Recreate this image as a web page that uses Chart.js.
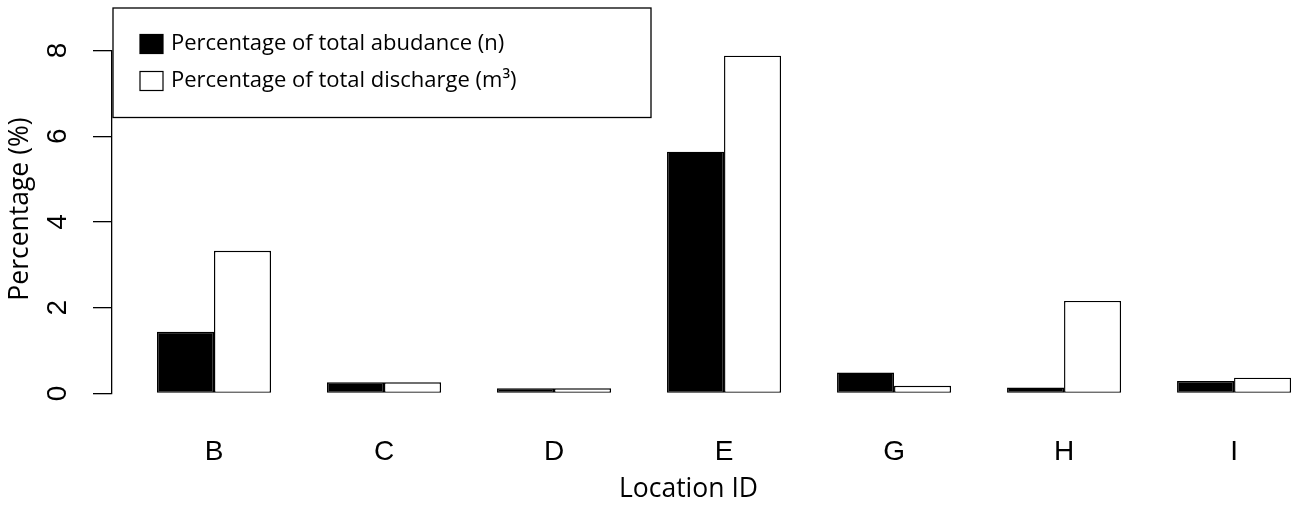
<!DOCTYPE html>
<html>
<head>
<meta charset="utf-8">
<title>Percentage by location</title>
<script src="https://cdn.jsdelivr.net/npm/chart.js@4.4.1/dist/chart.umd.min.js"></script>
<style>
  html, body { margin: 0; padding: 0; background: #fff; overflow: hidden; }
  #wrap { position: relative; width: 1296px; height: 505px; }
</style>
</head>
<body>
<div id="wrap"><canvas id="chart"></canvas></div>
<script>
// ── Data ───────────────────────────────────────────────
const locations = ['B', 'C', 'D', 'E', 'G', 'H', 'I'];
const abundance = [1.44, 0.26, 0.12, 5.64, 0.49, 0.14, 0.29];
const discharge = [3.33, 0.26, 0.12, 7.88, 0.18, 2.16, 0.37];
const yTicks = [0, 2, 4, 6, 8];
const seriesLabels = ['Percentage of total abudance (n)', 'Percentage of total discharge (m³)'];
const yTitle = 'Percentage (%)';

const axisFont = "'Liberation Sans', Arial, sans-serif";
const textFont = "'Open Sans', 'Noto Sans', sans-serif";

// ── Boxed legend + y title (sits a bit above the axis middle) ──
const boxLegend = {
    id: 'boxLegend',
    afterDraw(chart) {
        const ctx = chart.ctx;
        ctx.save();
        ctx.strokeStyle = '#000';
        ctx.lineWidth = 1.3;
        ctx.strokeRect(113, 8, 538, 109.5);
        chart.data.datasets.forEach((ds, i) => {
            const y = 44 + i * 37;
            ctx.fillStyle = ds.backgroundColor;
            ctx.fillRect(140, y - 9.5, 23, 19);
            ctx.lineWidth = 1.2;
            ctx.strokeRect(140, y - 9.5, 23, 19);
            ctx.fillStyle = '#000';
            ctx.font = '22px ' + textFont;
            ctx.textBaseline = 'middle';
            ctx.fillText(ds.label, 171, y);
        });

        ctx.translate(20, 209);
        ctx.rotate(-Math.PI / 2);
        ctx.font = '26.5px ' + textFont;
        ctx.textAlign = 'center';
        ctx.textBaseline = 'middle';
        ctx.fillStyle = '#000';
        ctx.fillText(yTitle, 0, 0);
        ctx.restore();
    }
};

const barStyle = { borderColor: '#000', borderWidth: 1.4, borderSkipped: false,
    categoryPercentage: 0.6706, barPercentage: 1, clip: false };

new Chart(document.getElementById('chart'), {
    type: 'bar',
    data: {
        datasets: [
            { label: seriesLabels[0], backgroundColor: '#000', ...barStyle,
              data: locations.map((c, i) => ({ x: i, y: abundance[i] })) },
            { label: seriesLabels[1], backgroundColor: '#fff', ...barStyle,
              data: locations.map((c, i) => ({ x: i, y: discharge[i] })) }
        ]
    },
    options: {
        responsive: true,
        maintainAspectRatio: false,
        animation: false,
        layout: { padding: { top: 50.5, right: 31, bottom: 0, left: 0 } },
        plugins: { legend: { display: false }, tooltip: { enabled: false } },
        scales: {
            x: {
                type: 'linear',
                min: -0.6,
                max: 6.182,
                offset: false,
                afterBuildTicks: s => { s.ticks = locations.map((c, i) => ({ value: i })); },
                afterFit: s => { s.height = 111.5; },
                grid: { display: false, drawTicks: false },
                border: { display: false },
                ticks: {
                    callback: v => locations[v],
                    autoSkip: false, maxRotation: 0, padding: 42,
                    color: '#000', font: { family: axisFont, size: 28 }
                },
                title: {
                    display: true, text: 'Location ID', color: '#000',
                    font: { family: textFont, size: 26.5 }, padding: { top: 0, bottom: 0 }
                }
            },
            y: {
                min: 0,
                max: 8,
                afterBuildTicks: s => { s.ticks = yTicks.map(v => ({ value: v })); },
                afterFit: s => { s.width = 112; },
                border: { display: true, color: '#000', width: 1.3 },
                grid: { display: true, drawOnChartArea: false, drawTicks: true,
                        tickLength: 19, color: '#000', lineWidth: 1.3 },
                ticks: {
                    minRotation: 90, maxRotation: 90, crossAlign: 'center', padding: 27,
                    color: '#000', font: { family: axisFont, size: 28 }
                },
                title: { display: false }
            }
        }
    },
    plugins: [boxLegend]
});
</script>
</body>
</html>
